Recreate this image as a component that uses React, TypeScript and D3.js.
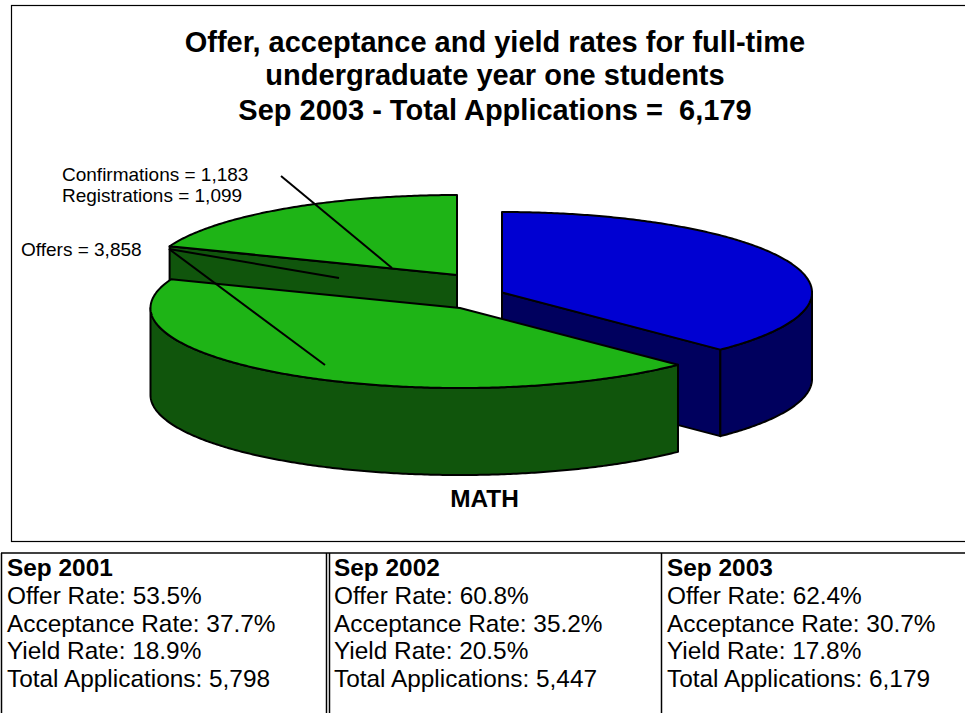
import React from "react";
import * as d3 from "d3";

// ---- data ----
const sliceNames = ["Not offered", "Offers less confirmations", "Confirmations"];
const sliceValues = [2321, 2675, 1183];
const titleLines = [
  "Offer, acceptance and yield rates for full-time",
  "undergraduate year one students",
  "Sep 2003 - Total Applications =  6,179",
];
const pieLabels = ["Confirmations = 1,183", "Registrations = 1,099", "Offers = 3,858"];
const categoryLabel = "MATH";
const years = ["Sep 2001", "Sep 2002", "Sep 2003"];
const offerRates = ["53.5%", "60.8%", "62.4%"];
const acceptanceRates = ["37.7%", "35.2%", "30.7%"];
const yieldRates = ["18.9%", "20.5%", "17.8%"];
const totalApplications = ["5,798", "5,447", "6,179"];

// ---- layout / style ----
const W = 965;
const H = 713;
const FONT = "'Liberation Sans', Arial, sans-serif";
const geometry = [
  { cx: 502, cy: 292.5, rx: 310, ry: 80.5, depth: 86.5, top: "#0000D2", side: "#00005E" },
  { cx: 460, cy: 308, rx: 309.5, ry: 80, depth: 87, top: "#1EB416", side: "#10550C" },
  { cx: 457, cy: 275, rx: 308, ry: 80, depth: 87, top: "#1EB416", side: "#10550C" },
];
const leaders = [
  [[281, 176], [392, 268]],
  [[169, 249], [339, 278]],
  [[169, 249], [325, 365]],
];
const colX = [7, 334, 667];
const rowY = [576, 604, 631.5, 659, 686.5];

const pie = d3.pie<number>().sort(null).value((d) => d);
const arcs = pie(sliceValues);
const line = d3.line<[number, number]>();

function rim(g: (typeof geometry)[number], a0: number, a1: number, dy = 0): [number, number][] {
  const n = Math.max(2, Math.ceil(Math.abs(a1 - a0) / 0.01));
  return d3.range(n + 1).map((i) => {
    const a = a0 + ((a1 - a0) * i) / n;
    return [g.cx + g.rx * Math.sin(a), g.cy - g.ry * Math.cos(a) + dy] as [number, number];
  });
}

function Slice({ index, showRim, wallAt }: { index: number; showRim?: [number, number]; wallAt?: number }) {
  const g = geometry[index];
  const arc = arcs[index];
  const stroke = { stroke: "#000", strokeWidth: 2, strokeLinejoin: "round" as const };
  const center: [number, number] = [g.cx, g.cy];
  return (
    <g>
      {wallAt !== undefined && (() => {
        const p = rim(g, wallAt, wallAt)[0];
        const pts: [number, number][] = [center, p, [p[0], p[1] + g.depth], [g.cx, g.cy + g.depth]];
        return <path d={line(pts) + "Z"} fill={g.side} {...stroke} />;
      })()}
      {showRim && (
        <path
          d={
            line([
              ...rim(g, showRim[0], showRim[1]),
              ...rim(g, showRim[1], showRim[0], g.depth),
            ]) + "Z"
          }
          fill={g.side}
          {...stroke}
        />
      )}
      <path
        d={line([center, ...rim(g, arc.startAngle, arc.endAngle)]) + "Z"}
        fill={g.top}
        {...stroke}
      />
    </g>
  );
}

export default function App() {
  const pi = Math.PI;
  return (
    <svg
      width={W}
      height={H}
      viewBox={`0 0 ${W} ${H}`}
      style={{ position: "absolute", left: 0, top: 0, display: "block", background: "#fff" }}
      fontFamily={FONT}
    >
      {/* chart frame */}
      <rect x={11.5} y={5.5} width={W + 10} height={536} fill="none" stroke="#000" strokeWidth={1.2} />

      {/* title */}
      {titleLines.map((t, i) => (
        <text
          key={t}
          x={495}
          y={[51.5, 85, 120][i]}
          textAnchor="middle"
          fontSize={29}
          fontWeight="bold"
          style={{ whiteSpace: "pre" }}
        >
          {t}
        </text>
      ))}

      {/* blue slice */}
      <Slice index={0} wallAt={arcs[0].endAngle} showRim={[pi / 2, arcs[0].endAngle]} />
      {/* detached confirmations slice */}
      <Slice index={2} wallAt={arcs[2].startAngle} />
      {/* large green slice */}
      <Slice index={1} showRim={[arcs[1].startAngle, 1.5 * pi]} />

      {/* leaders */}
      {leaders.map((l, i) => (
        <path key={i} d={line(l as [number, number][]) ?? ""} fill="none" stroke="#000" strokeWidth={2} />
      ))}

      {/* labels */}
      <text x={62} y={180.5} fontSize={19}>{pieLabels[0]}</text>
      <text x={62} y={202} fontSize={19}>{pieLabels[1]}</text>
      <text x={21} y={255.5} fontSize={19}>{pieLabels[2]}</text>
      <text x={484.5} y={507} textAnchor="middle" fontSize={24.4} fontWeight="bold">{categoryLabel}</text>

      {/* table */}
      <g stroke="#000" fill="none">
        <line x1={1} x2={W} y1={553} y2={553} strokeWidth={1.5} />
        <line x1={1.5} x2={1.5} y1={553} y2={H} strokeWidth={1.5} />
        <line x1={326.5} x2={326.5} y1={553} y2={H} strokeWidth={1.5} />
        <line x1={329.5} x2={329.5} y1={553} y2={H} strokeWidth={1.5} />
        <line x1={661.5} x2={661.5} y1={553} y2={H} strokeWidth={1.5} />
      </g>
      {years.map((y, i) => (
        <g key={y} fontSize={24.4}>
          <text x={colX[i]} y={rowY[0]} fontWeight="bold">{y}</text>
          <text x={colX[i]} y={rowY[1]}>Offer Rate: {offerRates[i]}</text>
          <text x={colX[i]} y={rowY[2]}>Acceptance Rate: {acceptanceRates[i]}</text>
          <text x={colX[i]} y={rowY[3]}>Yield Rate: {yieldRates[i]}</text>
          <text x={colX[i]} y={rowY[4]}>Total Applications: {totalApplications[i]}</text>
        </g>
      ))}
    </svg>
  );
}
